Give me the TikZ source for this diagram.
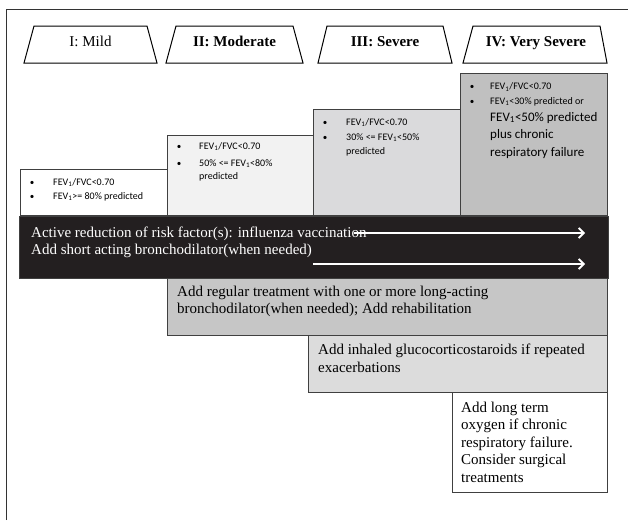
\documentclass[tikz,border=0pt]{standalone}
\usepackage{fontspec}
\setmainfont{Liberation Serif}
\newfontfamily\carl{Carlito}
\usetikzlibrary{arrows.meta}
\definecolor{edgec}{HTML}{404040}
\definecolor{fillII}{HTML}{F2F2F2}
\definecolor{fillIII}{HTML}{DADADC}
\definecolor{fillIV}{HTML}{C0C0C0}
\definecolor{barc}{HTML}{231F20}
\definecolor{regc}{HTML}{C6C6C6}
\definecolor{inhc}{HTML}{DCDCDC}
\begin{document}
\begin{tikzpicture}[x=1pt,y=-1pt,
 box/.style={draw=edgec, line width=0.9pt, anchor=north west, inner sep=0pt},
 ser/.style={anchor=base west, inner sep=0pt, font=\fontsize{15}{17}\selectfont},
 sml/.style={anchor=base west, inner sep=0pt, font=\carl\fontsize{10}{12}\selectfont},
 big/.style={anchor=base west, inner sep=0pt, font=\carl\fontsize{13}{15}\selectfont},
 bul/.style={anchor=base, inner sep=0pt, font=\carl\fontsize{9}{12}\selectfont},
 trap/.style={draw=black, line width=1pt, fill=white},
 stage/.style={anchor=base, inner sep=0pt, font=\fontsize{15}{17}\selectfont},
 warrow/.style={draw=white, line width=1.8pt, -{Straight Barb[length=5pt,width=10pt]}}]
\useasboundingbox (0,0) rectangle (628,520);
\fill[white] (0,0) rectangle (628,520);
% frame
\draw[draw=black!80, line width=1pt] (6,520) -- (6,9) -- (628,9);
% stage trapezia
\draw[trap] (24,63) -- (34,26) -- (147,26) -- (157,63) -- cycle;
\draw[trap] (166,63) -- (176,26) -- (293,26) -- (303,63) -- cycle;
\draw[trap] (318,63) -- (327,26) -- (443,26) -- (452,63) -- cycle;
\draw[trap] (463,63) -- (473,26) -- (600,26) -- (607,63) -- cycle;
\node[stage] (sI) at (90.5,46) {I: Mild};
\node[stage] (sII) at (234.5,46) {\textbf{II: Moderate}};
\node[stage] (sIII) at (385,46) {\textbf{III: Severe}};
\node[stage] (sIV) at (536,46) {\textbf{IV: Very Severe}};
% stage boxes
\node[box, fill=white, minimum width=147pt, minimum height=46pt] (bxI) at (20,169) {};
\node[box, fill=fillII, minimum width=146pt, minimum height=80pt] (bxII) at (167,135) {};
\node[box, fill=fillIII, minimum width=147pt, minimum height=106pt] (bxIII) at (313,109) {};
\node[box, fill=fillIV, minimum width=147pt, minimum height=142pt] (bxIV) at (460,73) {};
% box I text
\node[bul] (bI1) at (32,185) {•};
\node[sml] (tI1) at (53,185) {FEV\textsubscript{1}/FVC<0.70};
\node[bul] (bI2) at (32,199) {•};
\node[sml] (tI2) at (53,199) {FEV\textsubscript{1}>= 80\% predicted};
% box II text
\node[bul] (bII1) at (179,149) {•};
\node[sml] (tII1) at (199,149) {FEV\textsubscript{1}/FVC<0.70};
\node[bul] (bII2) at (179,166) {•};
\node[sml] (tII2) at (199,166) {50\% <= FEV\textsubscript{1}<80\%};
\node[sml] (tII3) at (199,179.5) {predicted};
% box III text
\node[bul] (bIII1) at (325,125) {•};
\node[sml] (tIII1) at (346,125) {FEV\textsubscript{1}/FVC<0.70};
\node[bul] (bIII2) at (325,140) {•};
\node[sml] (tIII2) at (346,140) {30\% <= FEV\textsubscript{1}<50\%};
\node[sml] (tIII3) at (346,154) {predicted};
% box IV text
\node[bul] (bIV1) at (472,89.5) {•};
\node[sml] (tIV1) at (490,89.5) {FEV\textsubscript{1}/FVC<0.70};
\node[bul] (bIV2) at (472,104) {•};
\node[sml] (tIV2) at (490,104) {FEV\textsubscript{1}<30\% predicted or};
\node[big] (tIV3) at (490,121) {FEV\textsubscript{1}<50\% predicted};
\node[big] (tIV4) at (490,138.5) {plus chronic};
\node[big] (tIV5) at (490,156) {respiratory failure};
% treatment bands
\node[box, fill=barc, minimum width=589pt, minimum height=62pt] (bar) at (19,216) {};
\node[box, fill=regc, minimum width=440pt, minimum height=57pt] (reg) at (167,278) {};
\node[box, fill=inhc, minimum width=299pt, minimum height=57pt] (inh) at (308,335) {};
\node[box, fill=white, minimum width=155pt, minimum height=100pt] (oxy) at (452,392) {};
\node[ser, text=white] (bar1) at (31,237) {Active reduction of risk factor(s): influenza vaccination};
\node[ser, text=white] (bar2) at (31,254) {Add short acting bronchodilator(when needed)};
\coordinate (a1s) at (354,233);
\coordinate (a1e) at (585,233);
\coordinate (a2s) at (313,264);
\coordinate (a2e) at (585,264);
\draw[warrow] (a1s) -- (a1e);
\draw[warrow] (a2s) -- (a2e);
\node[ser] (reg1) at (177,296) {Add regular treatment with one or more long-acting};
\node[ser] (reg2) at (177,313) {bronchodilator(when needed); Add rehabilitation};
\node[ser] (inh1) at (318,354) {Add inhaled glucocorticostaroids if repeated};
\node[ser] (inh2) at (318,372) {exacerbations};
\node[ser] (oxy1) at (461,412) {Add long term};
\node[ser] (oxy2) at (461,429.5) {oxygen if chronic};
\node[ser] (oxy3) at (461,447) {respiratory failure.};
\node[ser] (oxy4) at (461,464.5) {Consider surgical};
\node[ser] (oxy5) at (461,482) {treatments};
\end{tikzpicture}
\end{document}
